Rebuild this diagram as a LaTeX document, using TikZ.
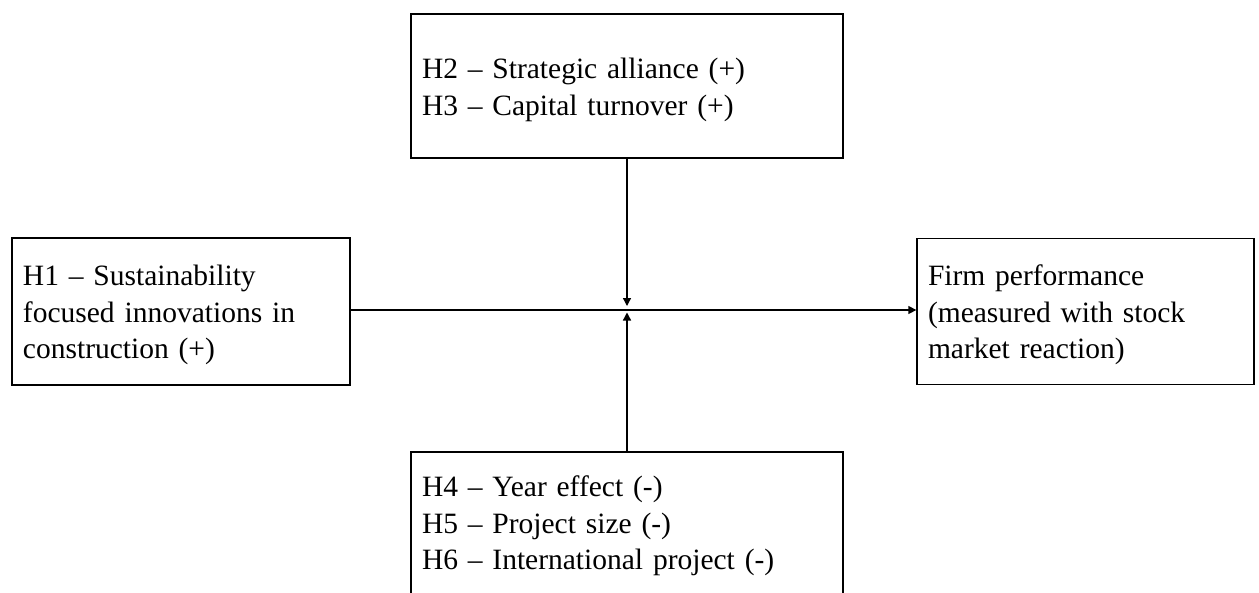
\documentclass[tikz,border=0pt]{standalone}
\usepackage{fontspec}
\setmainfont{Liberation Serif}
\usetikzlibrary{arrows.meta}
\newcommand{\toppad}{\rule{0pt}{28pt}}
\begin{document}
\begin{tikzpicture}[x=1pt,y=1pt,
  box/.style={draw=black, line width=1.3pt, inner xsep=11pt, inner ysep=2pt,
    align=left, font=\fontsize{29.5}{36.5}\selectfont},
  conn/.style={draw=black, line width=1.3pt, -{Triangle[length=8pt,width=8pt]}}]
\useasboundingbox (0,0) rectangle (1259,-592);
\clip (0,0) rectangle (1259,-592);
\node[box, text width=410pt, minimum height=144pt] (top) at (627,-86)
  {\toppad H2 – Strategic alliance (+)\\H3 – Capital turnover (+)};
\node[box, text width=316pt, minimum height=147pt] (left) at (181,-311.5)
  {\toppad H1 – Sustainability\\focused innovations in\\construction (+)};
\node[box, text width=315pt, minimum height=146pt] (right) at (1085.5,-311.5)
  {\toppad Firm performance\\(measured with stock\\market reaction)};
\node[box, text width=410pt, minimum height=148pt] (bottom) at (627,-526)
  {H4 – Year effect (-)\\H5 – Project size (-)\\H6 – International project (-)};
\coordinate (jt) at (627,-306);
\coordinate (jb) at (627,-312.5);
\draw[conn] (left.east |- 0,-310) -- (right.west |- 0,-310);
\draw[conn] (top.south) -- (jt);
\draw[conn] (bottom.north) -- (jb);
\end{tikzpicture}
\end{document}
